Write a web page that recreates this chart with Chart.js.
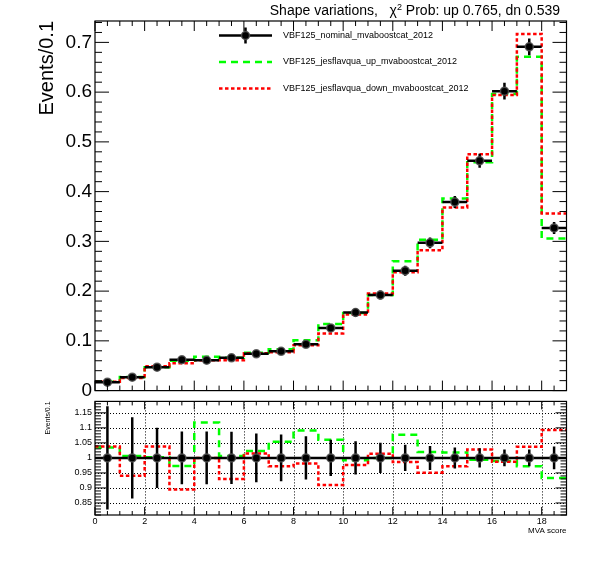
<!DOCTYPE html>
<html>
<head>
<meta charset="utf-8">
<script src="https://cdn.jsdelivr.net/npm/chart.js@4.4.1/dist/chart.umd.min.js"></script>
<style>
  html, body { margin: 0; padding: 0; background: #fff; }
  #wrap { position: relative; width: 596px; height: 572px; overflow: hidden; background: #fff; }
  #topPad { position: absolute; left: 0; top: 0; }
  #botPad { position: absolute; left: 0; top: 393px; }
  #title {
    position: absolute; right: 36px; top: 2px;
    font: 14px "Liberation Sans", Arial, Helvetica, sans-serif;
    line-height: 16px; white-space: pre; color: #000;
  }
  #title sup { font-size: 9px; vertical-align: 5px; line-height: 0; }
</style>
</head>
<body>
<div id="wrap">
  <canvas id="topPad" width="596" height="405"></canvas>
  <canvas id="botPad" width="596" height="179"></canvas>
  <div id="title">Shape variations,   χ<sup>2</sup> Prob: up 0.765, dn 0.539</div>
</div>
<script>
// bins: 19 bins of width 1 on the MVA score axis
const xMin = 0;
const binWidth = 1;

// main pad (Events/0.1)
const nominal    = [0.017, 0.027, 0.047, 0.062, 0.061, 0.066, 0.074, 0.079, 0.093, 0.126, 0.157, 0.192, 0.241, 0.297, 0.379, 0.462, 0.602, 0.691, 0.327];
const nominalErr = [0.003, 0.004, 0.005, 0.005, 0.005, 0.006, 0.006, 0.006, 0.007, 0.008, 0.009, 0.009, 0.010, 0.011, 0.012, 0.014, 0.017, 0.017, 0.012];
const jesUp      = [0.0176, 0.0272, 0.047, 0.060, 0.068, 0.066, 0.076, 0.083, 0.101, 0.134, 0.156, 0.192, 0.260, 0.303, 0.386, 0.459, 0.596, 0.671, 0.306];
const jesDown    = [0.0176, 0.0254, 0.049, 0.055, 0.061, 0.061, 0.075, 0.077, 0.091, 0.115, 0.153, 0.195, 0.238, 0.282, 0.368, 0.475, 0.594, 0.717, 0.356];

// ratio pad
const ratioNom  = [1, 1, 1, 1, 1, 1, 1, 1, 1, 1, 1, 1, 1, 1, 1, 1, 1, 1, 1];
const ratioErr  = [0.172, 0.135, 0.100, 0.088, 0.088, 0.087, 0.081, 0.078, 0.072, 0.060, 0.055, 0.050, 0.044, 0.040, 0.035, 0.032, 0.028, 0.028, 0.038];
const ratioUp   = [1.035, 1.006, 1.002, 0.973, 1.118, 1.006, 1.023, 1.054, 1.091, 1.060, 0.992, 1.000, 1.077, 1.020, 1.018, 0.994, 0.990, 0.972, 0.933];
const ratioDown = [1.038, 0.941, 1.038, 0.895, 1.000, 0.930, 1.015, 0.972, 0.981, 0.910, 0.976, 1.014, 0.986, 0.951, 0.972, 1.028, 0.987, 1.037, 1.093];

// tick labels
const xTicks     = [0, 2, 4, 6, 8, 10, 12, 14, 16, 18];
const yTicksTop  = [0, 0.1, 0.2, 0.3, 0.4, 0.5, 0.6, 0.7];
const yTicksRat  = [0.85, 0.9, 0.95, 1, 1.05, 1.1, 1.15];

const legendLabels = [
  "VBF125_nominal_mvaboostcat_2012",
  "VBF125_jesflavqua_up_mvaboostcat_2012",
  "VBF125_jesflavqua_down_mvaboostcat_2012",
];

const fontFam = '"Liberation Sans", Arial, Helvetica, sans-serif';
const upColor = "#00ff00";
const dnColor = "#ff0000";
const upDash = [7, 5];
const dnDash = [3.5, 2.5];
const xMax = xMin + nominal.length * binWidth;

// histogram outline: one point per lower bin edge, plus the last upper edge
let stepPoints = (vals) => {
    let pts = vals.map((v, i) => ({ x: xMin + i * binWidth, y: v }));
    pts.push({ x: xMax, y: vals[vals.length - 1] });
    return pts;
};
// horizontal error bars (bin width), separated by gaps
let hBars = (vals) => {
    let pts = [];
    vals.forEach((v, i) => {
        let lo = xMin + i * binWidth;
        pts.push({ x: lo, y: v }, { x: lo + binWidth, y: v }, { x: lo + binWidth, y: null });
    });
    return pts;
};
let vBars = (vals, errs) => {
    let pts = [];
    vals.forEach((v, i) => {
        let c = xMin + (i + 0.5) * binWidth;
        pts.push({ x: c, y: v - errs[i] }, { x: c, y: v + errs[i] }, { x: c, y: null });
    });
    return pts;
};
let centers = (vals) => vals.map((v, i) => ({ x: xMin + (i + 0.5) * binWidth, y: v }));

let lineSet = (data, color, width, dash, stepped) => ({
    data: data,
    borderColor: color,
    borderWidth: width,
    borderDash: dash,
    stepped: stepped,
    pointRadius: 0,
    fill: false,
    spanGaps: false,
    tension: 0,
});
let markerSet = (data) => ({
    data: data,
    showLine: false,
    pointRadius: 4,
    pointBorderWidth: 1.5,
    pointBackgroundColor: "#000",
    pointBorderColor: "rgba(80,80,80,0.85)",
});

// ROOT-like frame, inward ticks and optional dotted grid
let tickLoop = (min, max, step, major, cb) => {
    let n0 = Math.ceil(min / step - 1e-6), n1 = Math.floor(max / step + 1e-6);
    for (let k = n0; k <= n1; k++) {
        let v = k * step;
        let r = v / major;
        cb(v, Math.abs(r - Math.round(r)) < 1e-6);
    }
};
const rootAxes = {
    id: "rootAxes",
    beforeDatasetsDraw(chart, args, o) {
        if (!o.gridX) return;
        const { ctx, chartArea: a, scales: { x, y } } = chart;
        ctx.save();
        ctx.strokeStyle = "#000";
        ctx.lineWidth = 1;
        ctx.setLineDash([1, 2]);
        ctx.beginPath();
        o.gridX.forEach((v) => {
            let px = Math.round(x.getPixelForValue(v)) + 0.5;
            ctx.moveTo(px, a.top);
            ctx.lineTo(px, a.bottom);
        });
        o.gridY.forEach((v) => {
            let py = Math.round(y.getPixelForValue(v)) + 0.5;
            ctx.moveTo(a.left, py);
            ctx.lineTo(a.right, py);
        });
        ctx.stroke();
        ctx.restore();
    },
    afterDatasetsDraw(chart, args, o) {
        const { ctx, chartArea: a, scales: { x, y } } = chart;
        ctx.save();
        ctx.strokeStyle = "#000";
        ctx.lineWidth = 1;
        ctx.setLineDash([]);
        ctx.beginPath();
        tickLoop(x.min, x.max, o.xMinor, o.xMajor, (v, isMaj) => {
            let px = x.getPixelForValue(v);
            let len = isMaj ? o.xMajLen : o.xMinLen;
            ctx.moveTo(px, a.bottom); ctx.lineTo(px, a.bottom - len);
            ctx.moveTo(px, a.top); ctx.lineTo(px, a.top + len);
        });
        tickLoop(y.min, y.max, o.yMinor, o.yMajor, (v, isMaj) => {
            let py = y.getPixelForValue(v);
            let len = isMaj ? o.yMajLen : o.yMinLen;
            ctx.moveTo(a.left, py); ctx.lineTo(a.left + len, py);
            ctx.moveTo(a.right, py); ctx.lineTo(a.right - len, py);
        });
        ctx.stroke();
        ctx.lineWidth = 1.2;
        ctx.strokeRect(a.left, a.top, a.right - a.left, a.bottom - a.top);
        ctx.restore();
    },
};

const legendBox = {
    id: "legendBox",
    afterDraw(chart, args, o) {
        const ctx = chart.ctx;
        ctx.save();
        o.items.forEach((it, i) => {
            let yy = o.y0 + i * o.dy;
            ctx.strokeStyle = it.color;
            ctx.lineWidth = it.width;
            ctx.setLineDash(it.dash);
            ctx.beginPath();
            ctx.moveTo(o.x0, yy);
            ctx.lineTo(o.x1, yy);
            ctx.stroke();
            if (it.marker) {
                let mx = (o.x0 + o.x1) / 2;
                ctx.beginPath();
                ctx.moveTo(mx, yy - 8);
                ctx.lineTo(mx, yy + 8);
                ctx.stroke();
                ctx.beginPath();
                ctx.arc(mx, yy, 4, 0, Math.PI * 2);
                ctx.fillStyle = "#000";
                ctx.fill();
                ctx.lineWidth = 1.5;
                ctx.strokeStyle = "rgba(80,80,80,0.85)";
                ctx.stroke();
            }
            ctx.fillStyle = "#000";
            ctx.font = "9px " + fontFam;
            ctx.textBaseline = "middle";
            ctx.textAlign = "left";
            ctx.fillText(it.text, o.tx, yy);
        });
        ctx.restore();
    },
};

let fmt = (v) => String(Math.round(v * 1000) / 1000);

// ---- main pad ----
let drawMainPad = () => {
    let ctx = document.getElementById("topPad").getContext("2d");
    return new Chart(ctx, {
        type: "line",
        data: {
            datasets: [
                markerSet(centers(nominal)),
                lineSet(vBars(nominal, nominalErr), "#000", 2.5, [], false),
                lineSet(hBars(nominal), "#000", 2.5, [], false),
                lineSet(stepPoints(jesDown), dnColor, 2.5, dnDash, "before"),
                lineSet(stepPoints(jesUp), upColor, 2.5, upDash, "before"),
            ],
        },
        options: {
            responsive: false,
            animation: false,
            layout: { padding: { top: 21, right: 29.5, left: 0, bottom: 0 } },
            plugins: {
                legend: { display: false },
                tooltip: { enabled: false },
                rootAxes: {
                    xMajor: 2, xMinor: 0.5, xMajLen: 10, xMinLen: 5,
                    yMajor: 0.1, yMinor: 0.02, yMajLen: 14, yMinLen: 7,
                },
                legendBox: {
                    x0: 219, x1: 272, tx: 283, y0: 35.5, dy: 26.5,
                    items: [
                        { text: legendLabels[0], color: "#000", width: 2.5, dash: [], marker: true },
                        { text: legendLabels[1], color: upColor, width: 2.5, dash: upDash },
                        { text: legendLabels[2], color: dnColor, width: 2.5, dash: dnDash },
                    ],
                },
            },
            scales: {
                x: {
                    type: "linear",
                    min: xMin,
                    max: xMax,
                    grid: { display: false, drawTicks: false },
                    border: { display: false },
                    ticks: { display: false },
                    afterFit: (s) => { s.height = 405 - 392.7; },
                },
                y: {
                    type: "linear",
                    min: 0,
                    max: 0.743,
                    grid: { display: false, drawTicks: false },
                    border: { display: false },
                    afterBuildTicks: (s) => { s.ticks = yTicksTop.map((v) => ({ value: v })); },
                    ticks: {
                        color: "#000",
                        padding: 3,
                        font: { family: fontFam, size: 19 },
                        callback: fmt,
                    },
                    title: {
                        display: true,
                        text: "Events/0.1",
                        align: "end",
                        color: "#000",
                        font: { family: fontFam, size: 20 },
                        padding: { top: 35, bottom: 0 },
                    },
                    afterFit: (s) => { s.width = 95; },
                },
            },
        },
        plugins: [rootAxes, legendBox],
    });
};

// ---- ratio pad ----
let drawRatioPad = () => {
    let ctx = document.getElementById("botPad").getContext("2d");
    return new Chart(ctx, {
        type: "line",
        data: {
            datasets: [
                markerSet(centers(ratioNom)),
                lineSet(vBars(ratioNom, ratioErr), "#000", 2.5, [], false),
                lineSet(hBars(ratioNom), "#000", 2.5, [], false),
                lineSet(stepPoints(ratioDown), dnColor, 2.5, dnDash, "before"),
                lineSet(stepPoints(ratioUp), upColor, 2.5, upDash, "before"),
            ],
        },
        options: {
            responsive: false,
            animation: false,
            layout: { padding: { top: 1, right: 29.5, left: 0, bottom: 32 } },
            plugins: {
                legend: { display: false },
                tooltip: { enabled: false },
                rootAxes: {
                    xMajor: 2, xMinor: 0.5, xMajLen: 8, xMinLen: 4,
                    yMajor: 0.05, yMinor: 0.01, yMajLen: 11, yMinLen: 6,
                    gridX: xTicks.filter((v) => v > xMin && v < xMax),
                    gridY: yTicksRat,
                },
            },
            scales: {
                x: {
                    type: "linear",
                    min: xMin,
                    max: xMax,
                    grid: { display: false, drawTicks: false },
                    border: { display: false },
                    afterBuildTicks: (s) => { s.ticks = xTicks.map((v) => ({ value: v })); },
                    ticks: {
                        color: "#000",
                        padding: 1,
                        maxRotation: 0,
                        autoSkip: false,
                        font: { family: fontFam, size: 9 },
                        callback: fmt,
                    },
                    title: {
                        display: true,
                        text: "MVA score",
                        align: "end",
                        color: "#000",
                        font: { family: fontFam, size: 8 },
                        padding: { top: 0, bottom: 4.2 },
                    },
                    afterFit: (s) => { s.height = 25; },
                },
                y: {
                    type: "linear",
                    min: 0.81,
                    max: 1.188,
                    grid: { display: false, drawTicks: false },
                    border: { display: false },
                    afterBuildTicks: (s) => { s.ticks = yTicksRat.map((v) => ({ value: v })); },
                    ticks: {
                        color: "#000",
                        padding: 3,
                        autoSkip: false,
                        font: { family: fontFam, size: 9 },
                        callback: fmt,
                    },
                    title: {
                        display: true,
                        text: "Events/0.1",
                        align: "end",
                        color: "#000",
                        font: { family: fontFam, size: 7 },
                        padding: { top: 43.8, bottom: 0 },
                    },
                    afterFit: (s) => { s.width = 95; },
                },
            },
        },
        plugins: [rootAxes],
    });
};

drawMainPad();
drawRatioPad();
</script>
</body>
</html>
